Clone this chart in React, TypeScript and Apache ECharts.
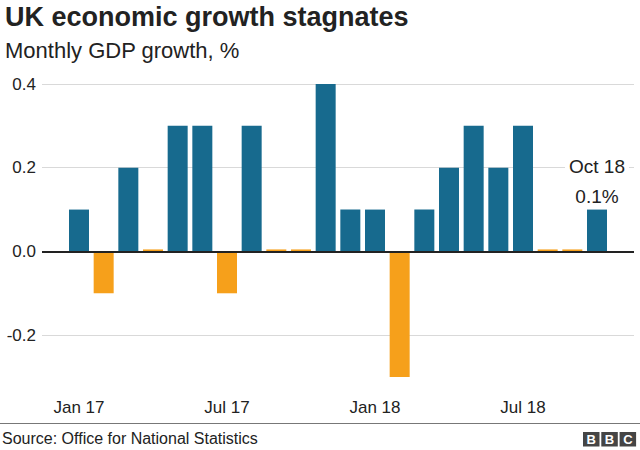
import React, { useEffect, useRef } from "react";
import * as echarts from "echarts";

const months: string[] = [
  "", "Jan 17", "Feb 17", "Mar 17", "Apr 17", "May 17", "Jun 17", "Jul 17", "Aug 17",
  "Sep 17", "Oct 17", "Nov 17", "Dec 17", "Jan 18", "Feb 18", "Mar 18", "Apr 18",
  "May 18", "Jun 18", "Jul 18", "Aug 18", "Sep 18", "Oct 18", "",
];
const growth: (number | null)[] = [
  null, 0.1, -0.1, 0.2, 0.0, 0.3, 0.3, -0.1, 0.3, 0.0, 0.0, 0.4, 0.1, 0.1, -0.3,
  0.1, 0.2, 0.3, 0.2, 0.3, 0.0, 0.0, 0.1, null,
];
const shownLabels: string[] = ["Jan 17", "Jul 17", "Jan 18", "Jul 18"];
const annotatedMonth = "Oct 18";
const annotationText = ["Oct 18", "0.1%"];

const BLUE = "#176a8e";
const ORANGE = "#f6a01b";
const FONT = "'Liberation Sans', Arial, Helvetica, sans-serif";
const TEXT = "#222222";

export default function App() {
  const ref = useRef<HTMLDivElement>(null);
  useEffect(() => {
    if (!ref.current) return;
    const chart = echarts.init(ref.current, undefined, { renderer: "svg" });
    const data = growth.map((v, i) => {
      const item: any = {
        value: v,
        itemStyle: { color: v !== null && v > 0 ? BLUE : ORANGE },
      };
      if (months[i] === annotatedMonth) {
        item.label = {
          show: true,
          position: "top",
          distance: 2,
          formatter: `{a|${annotationText[0]}}\n{b|${annotationText[1]}}`,
          rich: {
            a: {
              fontSize: 19,
              fontFamily: FONT,
              color: TEXT,
              lineHeight: 38,
              backgroundColor: "#ffffff",
              padding: [0, 4],
            },
            b: { fontSize: 19, fontFamily: FONT, color: TEXT, lineHeight: 22 },
          },
        };
      }
      return item;
    });
    chart.setOption({
      animation: false,
      textStyle: { fontFamily: FONT },
      grid: { left: 42, right: 6, top: 84, bottom: 73, containLabel: false },
      xAxis: {
        type: "category",
        data: months,
        axisLine: { show: false },
        axisTick: { show: false },
        axisLabel: {
          interval: (_i: number, v: string) => shownLabels.includes(v),
          color: TEXT,
          fontSize: 17,
          fontFamily: FONT,
          margin: 22,
        },
      },
      yAxis: {
        type: "value",
        min: -0.3,
        max: 0.4,
        interval: 0.1,
        axisLine: { show: false },
        axisTick: { show: false },
        axisLabel: {
          color: TEXT,
          fontSize: 17,
          fontFamily: FONT,
          margin: 6,
          formatter: (v: number) => {
            const k = Math.round(v * 10);
            return k % 2 === 0 ? (k / 10).toFixed(1) : "";
          },
        },
        splitLine: {
          show: true,
          lineStyle: { color: ["rgba(0,0,0,0)", "#d9d9d9"], width: 1 },
        },
      },
      series: [
        {
          type: "bar",
          data,
          barWidth: 20,
          barMinHeight: 2,
          markLine: {
            silent: true,
            symbol: "none",
            label: { show: false },
            lineStyle: { color: "#222222", width: 2, type: "solid" },
            data: [{ yAxis: 0 }],
          },
        },
      ],
      graphic: [
        {
          type: "text",
          left: 5,
          top: 3,
          style: {
            text: "UK economic growth stagnates",
            fontSize: 27,
            fontWeight: "bold",
            fontFamily: FONT,
            fill: TEXT,
          },
        },
        {
          type: "text",
          left: 5,
          top: 39,
          style: {
            text: "Monthly GDP growth, %",
            fontSize: 22,
            fontFamily: FONT,
            fill: TEXT,
          },
        },
        {
          type: "line",
          shape: { x1: 0, y1: 423.5, x2: 640, y2: 423.5 },
          style: { stroke: "#777777", lineWidth: 1 },
        },
        {
          type: "text",
          left: 2,
          top: 430,
          style: {
            text: "Source: Office for National Statistics",
            fontSize: 16,
            fontFamily: FONT,
            fill: TEXT,
          },
        },
        ...["B", "B", "C"].flatMap((ch, i) => [
          {
            type: "rect",
            shape: { x: 583 + i * 18.3, y: 432, width: 16.5, height: 14.5 },
            style: { fill: "#454545" },
          },
          {
            type: "text",
            x: 583 + i * 18.3 + 8.25,
            y: 439.5,
            style: {
              text: ch,
              fontSize: 13,
              fontWeight: "bold",
              fontFamily: FONT,
              fill: "#ffffff",
              align: "center",
              verticalAlign: "middle",
            },
          },
        ]),
      ],
    });
    return () => chart.dispose();
  }, []);
  return (
    <div
      ref={ref}
      style={{ position: "fixed", left: 0, top: 0, width: 640, height: 450, background: "#ffffff" }}
    />
  );
}
